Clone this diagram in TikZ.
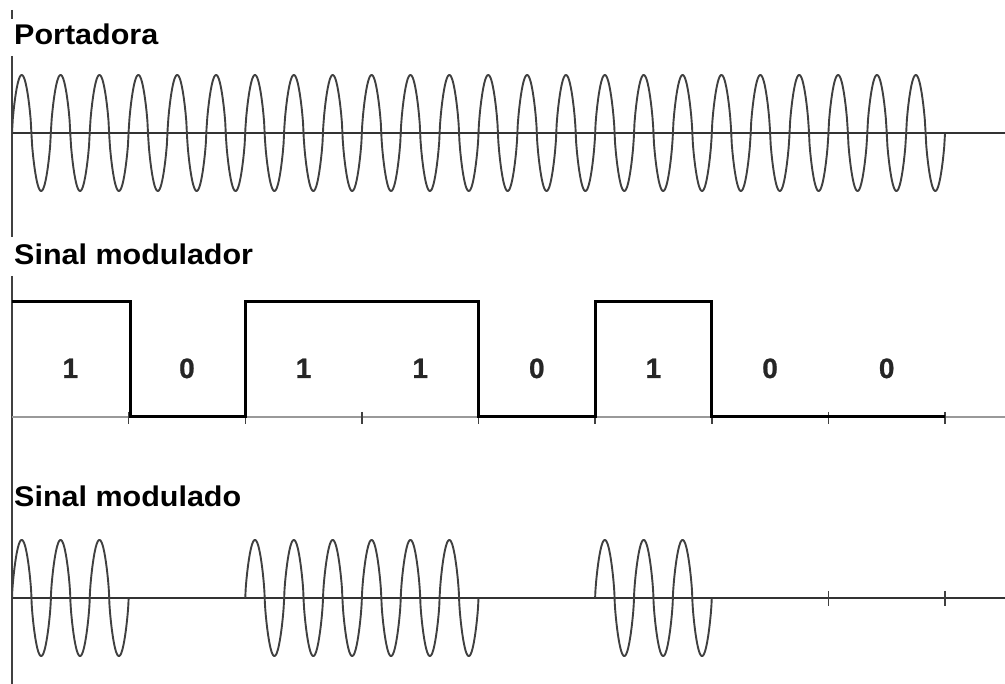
\documentclass[tikz,border=0pt]{standalone}
\usepackage{fontspec}
\setmainfont{Liberation Sans}
\newfontfamily\digitfont[FakeBold=0.8]{Liberation Sans}
\begin{document}
\begin{tikzpicture}[x=1pt,y=-1pt,
  declare function={wv(\t)=sign(sin(9.26045*(\t-12)))*pow(abs(sin(9.26045*(\t-12)))+0.0001,0.7);},
  title/.style={anchor=base west,inner sep=0pt,font=\bfseries\fontsize{28.5}{30}\selectfont,xscale=1.07},
  bit/.style={anchor=base,inner sep=0pt,text=black!85,font=\digitfont\bfseries\fontsize{28}{30}\selectfont},
  wave/.style={draw=black!75,line width=1.9pt,line join=round},
  axis/.style={draw=black!80,line width=1.9pt},
  gaxis/.style={draw=black!40,line width=2.4pt},
  sig/.style={draw=black,line width=3pt,line join=miter},
  tick/.style={draw=black!75,line width=1.5pt}]
\useasboundingbox (0,0) rectangle (1005,684);
\fill[white] (0,0) rectangle (1005,684);
% left vertical line
\draw[draw=black!75,line width=2.8pt] (12,10) -- (12,19);
\draw[draw=black!75,line width=2.8pt] (12,56) -- (12,237);
\draw[draw=black!75,line width=2.8pt] (12,276) -- (12,684);
% titles
\node[title] (t1) at (14,45) {Portadora};
\node[title] (t2) at (14,265) {Sinal modulador};
\node[title] (t3) at (14,507) {Sinal modulado};
% carrier
\draw[axis] (12,133) -- (1005,133);
\draw[wave] plot[domain=12:945,samples=1200] (\x,{133-58*wv(\x)});
% modulating signal
\draw[gaxis] (12,417) -- (1005,417);
\foreach \k in {1,...,8}{
  \draw[tick] ({12+116.625*\k},412) -- ({12+116.625*\k},424);
}
\draw[sig] (12,302) -- (130.6,302) -- (130.6,417) -- (245.25,417) -- (245.25,302)
  -- (478.5,302) -- (478.5,417) -- (595.1,417) -- (595.1,302) -- (711.75,302)
  -- (711.75,417) -- (945,417);
\foreach \b [count=\i from 0] in {1,0,1,1,0,1,0,0}{
  \node[bit] (b\i) at ({12+116.625*(\i+0.5)},378) {\b};
}
% modulated signal
\draw[axis] (12,598) -- (1005,598);
\foreach \k in {7,8}{
  \draw[tick] ({12+116.625*\k},591) -- ({12+116.625*\k},606);
}
\foreach \s/\e in {12/128.625,245.25/478.5,595.125/711.75}{
  \draw[wave] plot[domain=\s:\e,samples=500] (\x,{598-58*wv(\x)});
}
\end{tikzpicture}
\end{document}
